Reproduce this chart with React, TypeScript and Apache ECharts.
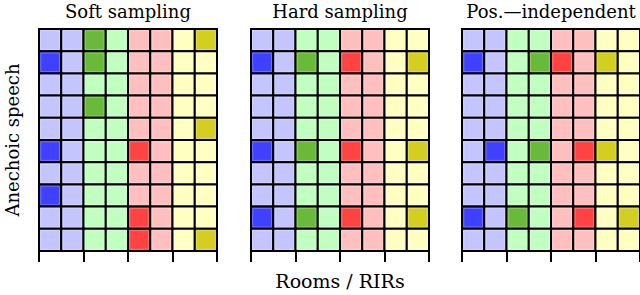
import React, { useEffect, useRef } from "react";
import * as echarts from "echarts";

const panelTitles = ["Soft sampling", "Hard sampling", "Pos.\u2014independent"];
const xTitle = "Rooms / RIRs";
const yTitle = "Anechoic speech";
const numCols = 8;
const numRows = 10;
const groupLight = ["#c4c4ff", "#c0ffc0", "#ffbfbf", "#ffffc2"];
const groupDark = ["#4040ff", "#68ba38", "#ff4242", "#d4ce20"];
// highlighted cells as [row, col]
const softCells = [[0, 2], [0, 7], [1, 0], [1, 2], [3, 2], [4, 7], [5, 0], [5, 4], [7, 0], [8, 4], [9, 4], [9, 7]];
const hardCells = [[1, 0], [1, 2], [1, 4], [1, 7], [5, 0], [5, 2], [5, 4], [5, 7], [8, 0], [8, 2], [8, 4], [8, 7]];
const posCells = [[1, 0], [1, 3], [1, 4], [1, 6], [5, 1], [5, 3], [5, 5], [5, 6], [8, 0], [8, 2], [8, 5], [8, 7]];
const panelCells = [softCells, hardCells, posCells];

const gridLefts = [39, 251, 462];
const gridWidth = 178;
const gridTop = 29;
const gridHeight = 222;
const serif = "DejaVu Serif";

export default function App() {
  const ref = useRef<HTMLDivElement>(null);
  useEffect(() => {
    if (!ref.current) return;
    const chart = echarts.init(ref.current, undefined, { renderer: "svg" });
    const grids: any[] = [];
    const xAxes: any[] = [];
    const yAxes: any[] = [];
    const series: any[] = [];
    const graphics: any[] = [];
    panelCells.forEach((cells, p) => {
      grids.push({ left: gridLefts[p], top: gridTop, width: gridWidth, height: gridHeight });
      xAxes.push({
        type: "value", gridIndex: p, min: 0, max: numCols, interval: 2, position: "bottom",
        axisLine: { show: true, onZero: false, lineStyle: { color: "#000", width: 2 } },
        axisTick: { show: true, length: 11, lineStyle: { color: "#000", width: 2 } },
        axisLabel: { show: false }, splitLine: { show: false }, z: 5,
      });
      yAxes.push({
        type: "value", gridIndex: p, min: 0, max: numRows, inverse: true,
        axisLine: { show: true, onZero: false, lineStyle: { color: "#000", width: 2 } },
        axisTick: { show: false }, axisLabel: { show: false }, splitLine: { show: false },
      });
      const hi = new Set(cells.map((c) => c[0] * numCols + c[1]));
      const data: number[][] = [];
      for (let r = 0; r < numRows; r++) {
        for (let c = 0; c < numCols; c++) {
          data.push([c, r, hi.has(r * numCols + c) ? 1 : 0]);
        }
      }
      series.push({
        type: "custom", xAxisIndex: p, yAxisIndex: p, data,
        renderItem: (params: any, api: any) => {
          const c = api.value(0);
          const r = api.value(1);
          const lvl = api.value(2);
          const p0 = api.coord([c, r]);
          const p1 = api.coord([c + 1, r + 1]);
          const g = Math.floor(c / 2);
          const fill = lvl ? groupDark[g] : groupLight[g];
          return {
            type: "group",
            children: [
              {
                type: "rect",
                shape: { x: p0[0], y: p0[1], width: p1[0] - p0[0], height: p1[1] - p0[1] },
                style: { fill, stroke: "#000", lineWidth: 2 },
              },
              {
                type: "rect",
                shape: { x: p0[0] + 1.8, y: p0[1] + 1.8, width: p1[0] - p0[0] - 3.6, height: p1[1] - p0[1] - 3.6 },
                style: { fill: "none", stroke: "rgba(255,255,255,0.25)", lineWidth: 1 },
              },
            ],
          };
        },
      });
      graphics.push({
        type: "text", x: gridLefts[p] + gridWidth / 2, y: 11,
        style: { text: panelTitles[p], fontFamily: serif, fontSize: 18, fill: "#000", align: "center", verticalAlign: "middle" },
      });
    });
    graphics.push({
      type: "text", x: gridLefts[1] + gridWidth / 2, y: 281,
      style: { text: xTitle, fontFamily: serif, fontSize: 19, fill: "#000", align: "center", verticalAlign: "middle" },
    });
    graphics.push({
      type: "text", x: 12, y: gridTop + gridHeight / 2, rotation: Math.PI / 2,
      style: { text: yTitle, fontFamily: serif, fontSize: 18, fill: "#000", align: "center", verticalAlign: "middle" },
    });
    chart.setOption({
      animation: false,
      grid: grids,
      xAxis: xAxes,
      yAxis: yAxes,
      series,
      graphic: graphics,
    });
    return () => chart.dispose();
  }, []);
  return <div ref={ref} style={{ width: 640, height: 295, position: "absolute", left: 0, top: 0, background: "#fff" }} />;
}
